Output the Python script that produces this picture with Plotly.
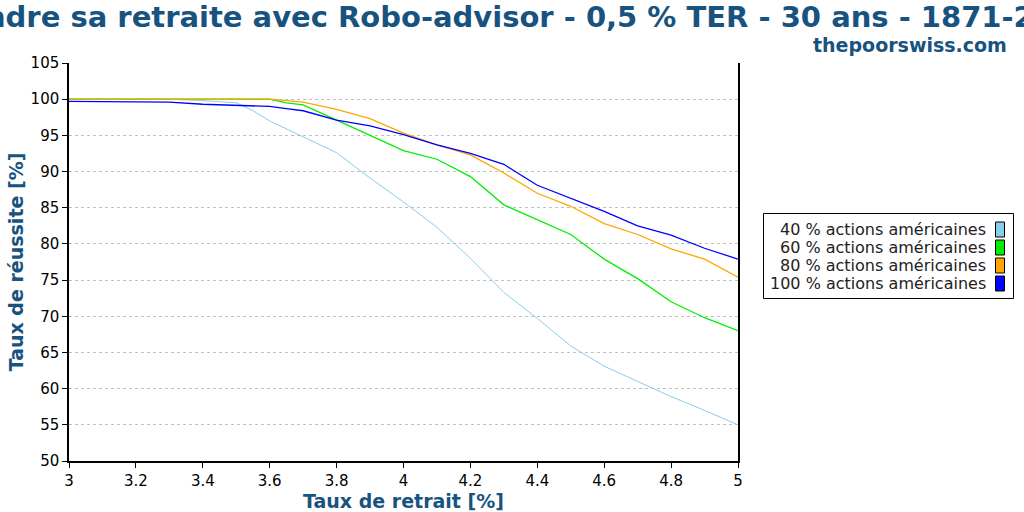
import plotly.graph_objects as go

# ---- data ----
withdrawal_rates = [3.0, 3.1, 3.2, 3.3, 3.4, 3.5, 3.55, 3.6, 3.65, 3.7, 3.8, 3.9,
                    4.0, 4.1, 4.2, 4.3, 4.4, 4.5, 4.6, 4.7, 4.8, 4.9, 5.0]
stocks_40 = [100, 100, 100, 100, 99.8, 99.5, 98.4, 97.0, 95.9, 94.8, 92.6, 89.1,
             85.8, 82.3, 78.0, 73.3, 69.7, 65.9, 63.1, 61.0, 58.9, 57.0, 55.0]
stocks_60 = [100, 100, 100, 100, 100, 100, 100, 100, 99.5, 99.2, 97.1, 95.0,
             92.9, 91.7, 89.3, 85.4, 83.3, 81.3, 77.9, 75.2, 72.0, 69.8, 68.0]
stocks_80 = [100, 100, 100, 100, 100, 100, 100, 100, 99.8, 99.6, 98.6, 97.3,
             95.3, 93.7, 92.3, 89.8, 87.0, 85.2, 82.8, 81.3, 79.3, 77.9, 75.4]
stocks_100 = [99.7, 99.7, 99.7, 99.6, 99.3, 99.2, 99.1, 99.0, 98.7, 98.4, 97.1, 96.3,
              95.1, 93.7, 92.5, 91.0, 88.1, 86.3, 84.5, 82.5, 81.2, 79.4, 77.9]
series_names = ["40 % actions américaines", "60 % actions américaines",
                "80 % actions américaines", "100 % actions américaines"]
series_values = [stocks_40, stocks_60, stocks_80, stocks_100]
series_colors = ["#87ceeb", "#00ee00", "#ffa500", "#0000ff"]
series_widths = [1.0, 1.3, 1.3, 1.3]
x_ticks = [3, 3.2, 3.4, 3.6, 3.8, 4, 4.2, 4.4, 4.6, 4.8, 5]
y_ticks = list(range(50, 106, 5))

title_text = "Prendre sa retraite avec Robo-advisor - 0,5 % TER - 30 ans - 1871-2018"
site_text = "thepoorswiss.com"
x_title = "Taux de retrait [%]"
y_title = "Taux de réussite [%]"

W, H = 1024, 512
L, R, T, B = 69, 738, 63, 461
TITLE_COLOR = "#18537f"
FONT = "DejaVu Sans"


def px(x):
    return (x - L) / (R - L)


def py(y):
    return (B - y) / (B - T)


fig = go.Figure()
for name, vals, col, w in zip(series_names, series_values, series_colors, series_widths):
    fig.add_trace(go.Scatter(x=withdrawal_rates, y=vals, mode="lines", name=name,
                             line=dict(color=col, width=w), showlegend=False))

shapes = []
annotations = []

# custom legend (symbols on the right, like the original)
shapes.append(dict(type="rect", xref="paper", yref="paper",
                   x0=px(763.5), x1=px(1013.5), y0=py(298.5), y1=py(213.5),
                   line=dict(color="black", width=1), fillcolor="white", layer="above"))
for i, (name, col) in enumerate(zip(series_names, series_colors)):
    cy = 229.5 + i * 18
    annotations.append(dict(xref="paper", yref="paper", x=px(988), y=py(cy),
                            xanchor="right", yanchor="middle", showarrow=False,
                            text=name, font=dict(family=FONT, size=16, color="#222222")))
    shapes.append(dict(type="rect", xref="paper", yref="paper",
                       x0=px(995.5), x1=px(1004.5), y0=py(cy + 7.5), y1=py(cy - 7.5),
                       line=dict(color="black", width=1), fillcolor=col, layer="above"))

annotations.append(dict(xref="paper", yref="paper", x=px(1009), y=py(45),
                        xanchor="right", yanchor="middle", showarrow=False,
                        text="<b>" + site_text + "</b>",
                        font=dict(family=FONT, size=19, color=TITLE_COLOR)))

fig.update_layout(
    width=W, height=H, autosize=False,
    margin=dict(l=L, r=W - R, t=T, b=H - B, pad=0, autoexpand=False),
    paper_bgcolor="white", plot_bgcolor="white",
    title=dict(text="<b>" + title_text + "</b>", x=0.5, xref="container", xanchor="center",
               y=1 - 17 / H, yref="container", yanchor="middle",
               font=dict(family=FONT, size=29, color=TITLE_COLOR)),
    font=dict(family=FONT, size=15, color="black"),
    shapes=shapes, annotations=annotations,
    xaxis=dict(range=[3, 5], tickvals=x_ticks, ticks="outside", ticklen=5, tickwidth=1,
               tickcolor="black", showline=True, linecolor="black", linewidth=1.5,
               mirror=False, showgrid=False, zeroline=False, automargin=False,
               tickfont=dict(family=FONT, size=15, color="black"),
               title=dict(text="<b>" + x_title + "</b>", standoff=0,
                          font=dict(family=FONT, size=19, color=TITLE_COLOR))),
    yaxis=dict(range=[50, 105], tickvals=y_ticks, ticks="outside", ticklen=5, tickwidth=1,
               tickcolor="black", showline=True, linecolor="black", linewidth=1.5,
               mirror=True, showgrid=True, gridcolor="#c0c0c0", griddash="dot", gridwidth=1,
               zeroline=False, automargin=False,
               tickfont=dict(family=FONT, size=15, color="black"),
               title=dict(text="<b>" + y_title + "</b>", standoff=2,
                          font=dict(family=FONT, size=19, color=TITLE_COLOR))),
)

fig.write_html("out.html", config={"displayModeBar": False},
               post_script="document.body.style.margin='0';document.body.style.overflow='hidden';")
